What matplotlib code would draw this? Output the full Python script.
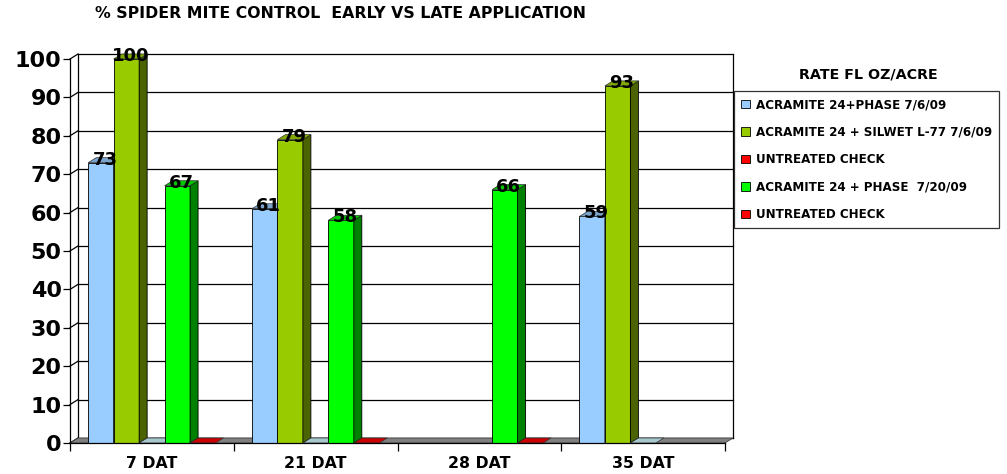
import numpy as np
import matplotlib.pyplot as plt
from matplotlib.patches import Polygon, Patch

plt.rcParams['font.family'] = ['DejaVu Sans']
plt.rcParams['font.weight'] = 'bold'

# data
categories = ['7 DAT', '21 DAT', '28 DAT', '35 DAT']
series_names = ['ACRAMITE 24+PHASE 7/6/09',
                'ACRAMITE 24 + SILWET L-77 7/6/09',
                'UNTREATED CHECK',
                'ACRAMITE 24 + PHASE  7/20/09',
                'UNTREATED CHECK']
phase_early = [73, 61, np.nan, 59]
silwet_early = [100, 79, np.nan, 93]
check_early = [0, 0, np.nan, 0]
phase_late = [67, 58, 66, np.nan]
check_late = [0, 0, 0, np.nan]
series_values = [phase_early, silwet_early, check_early, phase_late, check_late]
yticks = list(range(0, 101, 10))

# front, side, top colours per series
fronts = ['#99CCFF', '#99CC00', '#FF0000', '#00FF00', '#FF0000']
sides = ['#6E93B8', '#4B6300', '#990000', '#008000', '#990000']
tops = ['#7BA4CC', '#7FA800', '#A8C8D0', '#00C800', '#CC0000']

W, H = 1007, 474
fig = plt.figure(figsize=(W / 100, H / 100), dpi=100)
ax = fig.add_axes([70 / W, 31 / H, 655 / W, 384 / H])
ax.set_xlim(-0.5, len(categories) - 0.5)
ax.set_ylim(0, 100)
ax.patch.set_alpha(0)

# depth offset of the 3D box in data units
dpx, dpy = 8, 5
ddx = dpx * (len(categories)) / 655
ddy = dpy * 100 / 384
x0, x1 = -0.5, len(categories) - 0.5

# back wall, gridlines and left side wall
for y in yticks:
    ax.plot([x0 + ddx, x1 + ddx], [y + ddy, y + ddy], color='black', lw=0.9, clip_on=False, zorder=1)
    ax.plot([x0, x0 + ddx], [y, y + ddy], color='black', lw=0.9, clip_on=False, zorder=1)
ax.plot([x0 + ddx, x0 + ddx], [ddy, 100 + ddy], color='black', lw=0.9, clip_on=False, zorder=1)
ax.plot([x1 + ddx, x1 + ddx], [ddy, 100 + ddy], color='black', lw=0.9, clip_on=False, zorder=1)

# floor
floor = Polygon([[x0, 0], [x1, 0], [x1 + ddx, ddy], [x0 + ddx, ddy]], closed=True,
                facecolor='#808080', edgecolor='#404040', lw=0.6, clip_on=False, zorder=2)
ax.add_patch(floor)

n = len(series_values)
pitch = 0.1555
x = np.arange(len(categories))
for i, vals in enumerate(series_values):
    pos = x + (i - (n - 1) / 2) * pitch
    for xc, v in zip(pos, vals):
        if np.isnan(v):
            continue
        xl, xr = xc - pitch / 2, xc + pitch / 2
        z = 3 + i
        if v > 0:
            ax.bar(xc, v, width=pitch, color=fronts[i], edgecolor='black', lw=0.6, zorder=z, clip_on=False)
            side = Polygon([[xr, 0], [xr, v], [xr + ddx, v + ddy], [xr + ddx, ddy]], closed=True,
                           facecolor=sides[i], edgecolor='black', lw=0.6, clip_on=False, zorder=z)
            ax.add_patch(side)
        top = Polygon([[xl, v], [xr, v], [xr + ddx, v + ddy], [xl + ddx, v + ddy]], closed=True,
                      facecolor=tops[i], edgecolor='#333333', lw=0.5, clip_on=False, zorder=z)
        ax.add_patch(top)
        if v > 0:
            ax.text(xc + ddx / 2, v + ddy * 0.6, '%d' % v, ha='center', va='center',
                    fontsize=13, fontweight='bold', zorder=20, clip_on=False)

# axes styling
for s in ['top', 'right']:
    ax.spines[s].set_visible(False)
ax.spines['left'].set_linewidth(0.9)
ax.spines['bottom'].set_linewidth(0.9)
ax.spines['left'].set_zorder(15)
ax.spines['bottom'].set_zorder(15)
ax.set_yticks(yticks)
ax.tick_params(axis='y', labelsize=16, length=5, width=0.9, pad=1)
for lab in ax.get_yticklabels():
    lab.set_fontweight('bold')
ax.set_xticks(np.arange(len(categories) + 1) - 0.5)
ax.set_xticklabels([])
ax.tick_params(axis='x', which='major', length=6, width=0.9)
ax.set_xticks(x, minor=True)
ax.set_xticklabels(categories, minor=True, fontsize=11.3, fontweight='bold')
ax.tick_params(axis='x', which='minor', length=0, pad=9.5)

fig.text(95 / W, 1 - 14 / H, '% SPIDER MITE CONTROL  EARLY VS LATE APPLICATION',
         ha='left', va='center', fontsize=11.3, fontweight='bold')

handles = [Patch(facecolor=c, edgecolor='black', lw=0.6) for c in fronts]
leg = fig.legend(handles, series_names, loc='upper left', bbox_to_anchor=(734 / W, 1 - 91 / H),
                 fancybox=False, edgecolor='black', handlelength=0.7, handleheight=0.7,
                 labelspacing=1.21, handletextpad=0.5, borderpad=0.6, borderaxespad=0,
                 prop={'weight': 'bold', 'size': 8.6})
leg.get_frame().set_linewidth(0.9)
fig.text(868 / W, 1 - 75 / H, 'RATE FL OZ/ACRE', ha='center', va='center', fontsize=10.3, fontweight='bold')

fig.savefig('out.png', dpi=100)
